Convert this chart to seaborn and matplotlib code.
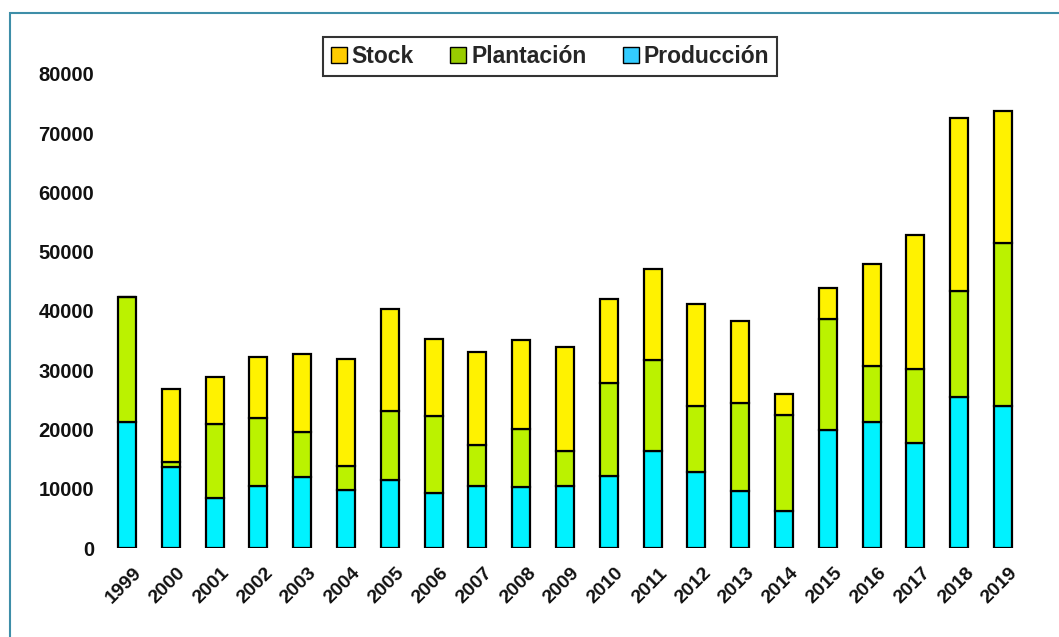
import matplotlib
matplotlib.use("Agg")
import matplotlib.pyplot as plt
import matplotlib.transforms as mtransforms
from matplotlib.patches import Patch, Rectangle
import pandas as pd
import seaborn as sns

years = [str(y) for y in range(1999, 2020)]
produccion = [21300, 13600, 8400, 10500, 12000, 9800, 11400, 9300, 10500, 10300, 10400,
              12200, 16400, 12900, 9700, 6200, 20000, 21300, 17700, 25500, 23900]
plantacion = [21000, 950, 12500, 11500, 7500, 4050, 11800, 12950, 6800, 9800, 6000,
              15600, 15300, 11150, 14800, 16300, 18650, 9500, 12550, 17950, 27650]
stock = [0, 12250, 8000, 10200, 13300, 18000, 17100, 13000, 15700, 15000, 17600,
         14200, 15400, 17050, 13750, 3500, 5200, 17200, 22550, 29050, 22150]

df = pd.DataFrame({"anio": years, "Producción": produccion,
                   "Plantación": plantacion, "Stock": stock})
df["base_stock"] = df["Producción"] + df["Plantación"]

sns.set_theme(style="white")
plt.rcParams["font.family"] = ["Liberation Sans", "DejaVu Sans"]
plt.rcParams["font.weight"] = "bold"

fig = plt.figure(figsize=(10.59, 6.37), dpi=100)
# marco exterior
fig.patches.append(Rectangle((10 / 1059, -0.05), 1.2, 1 - 13 / 637 + 0.05,
                             transform=fig.transFigure, fill=False,
                             edgecolor="#3E8EA8", linewidth=1.5))
ax = fig.add_axes([105 / 1059, 1 - 548 / 637, 920 / 1059, 474 / 637])

kw = dict(ax=ax, width=0.41, edgecolor="black", linewidth=1.6)
sns.barplot(data=df, x="anio", y="Producción", color="#00F2FF", saturation=1, **kw)
sns.barplot(data=df, x="anio", y="Plantación", bottom=df["Producción"],
            color="#BBF200", saturation=1, **kw)
sns.barplot(data=df, x="anio", y="Stock", bottom=df["base_stock"],
            color="#FFF200", saturation=1, **kw)

ax.set_ylim(0, 80000)
ax.set_xlim(-0.5, 20.5)
ax.set_yticks(range(0, 80001, 10000))
ax.set_xlabel("")
ax.set_ylabel("")
sns.despine(ax=ax, left=True, bottom=True)
ax.tick_params(axis="y", length=0, pad=8, labelsize=14.5, labelcolor="#111111")
ax.tick_params(axis="x", length=0, pad=12, labelsize=14, labelcolor="#111111")
ax.set_xticks(range(len(years)))
ax.set_xticklabels(years, rotation=45, ha="right", rotation_mode="anchor")
offset = mtransforms.ScaledTranslation(6 / 100, 0, fig.dpi_scale_trans)
for lab in ax.get_xticklabels():
    lab.set_transform(lab.get_transform() + offset)
    lab.set_fontweight("bold")
for lab in ax.get_yticklabels():
    lab.set_fontweight("bold")

handles = [Patch(facecolor="#FFCC00", edgecolor="black", label="Stock"),
           Patch(facecolor="#99CC00", edgecolor="black", label="Plantación"),
           Patch(facecolor="#33CCFF", edgecolor="black", label="Producción")]
leg = fig.legend(handles=handles, loc="upper center", bbox_to_anchor=(550 / 1059, 1 - 37 / 637),
                 ncol=3, frameon=True, fancybox=False, edgecolor="black",
                 prop={"weight": "bold", "size": 16.5}, handlelength=0.7, handleheight=0.7,
                 handletextpad=0.2, columnspacing=1.6, borderpad=0.35, borderaxespad=0)
leg.get_frame().set_linewidth(1.5)

plt.savefig("out.png", dpi=100)
